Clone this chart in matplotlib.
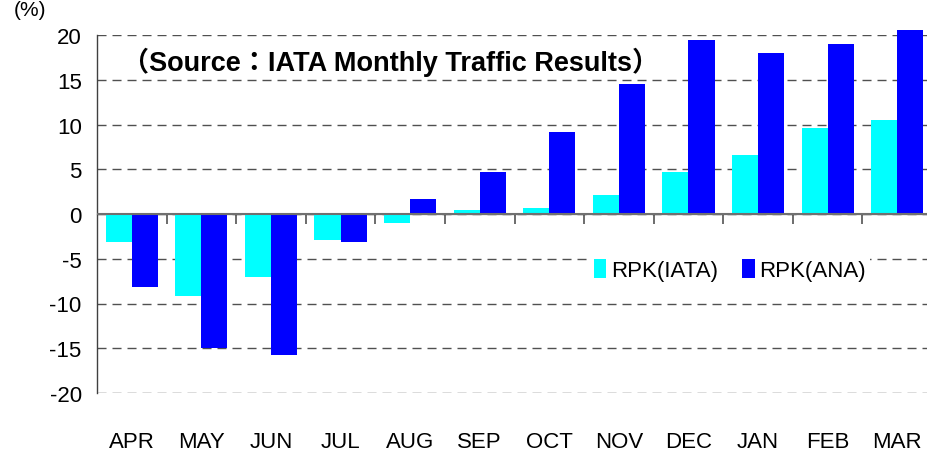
import numpy as np
import matplotlib
matplotlib.use('Agg')
import matplotlib.pyplot as plt
from matplotlib import font_manager as fm

months = ['APR', 'MAY', 'JUN', 'JUL', 'AUG', 'SEP', 'OCT', 'NOV', 'DEC', 'JAN', 'FEB', 'MAR']
rpk_iata = [-3.1, -9.2, -7.0, -2.9, -1.0, 0.45, 0.7, 2.1, 4.7, 6.6, 9.6, 10.5]
rpk_ana = [-8.2, -15.0, -15.7, -3.1, 1.7, 4.7, 9.2, 14.5, 19.4, 18.0, 19.0, 20.6]
yticks = [-20, -15, -10, -5, 0, 5, 10, 15, 20]

narrow = dict(family='Liberation Sans')

fig = plt.figure(figsize=(9.28, 4.60), dpi=100)
ax = fig.add_axes([97 / 928, 1 - 394 / 460, 835 / 928, 358 / 460])

x = np.arange(len(months))
w = 0.375
ax.bar(x - w / 2, rpk_iata, w, color='#00FFFF', label='RPK(IATA)', zorder=2)
ax.bar(x + w / 2, rpk_ana, w, color='#0000FF', label='RPK(ANA)', zorder=2, clip_on=False)

ax.set_xlim(-0.5, len(months) - 0.5)
ax.set_ylim(-20, 20)
ax.set_yticks(yticks)
ax.set_yticklabels([str(v) for v in yticks], fontsize=16, **narrow)
ax.set_xticks(x)
ax.set_xticklabels(months, fontsize=16, **narrow)
ax.tick_params(axis='y', length=0, pad=11)
ax.tick_params(axis='x', length=0, pad=27)

ax.yaxis.grid(True, color='#505050', linewidth=1.0, linestyle=(0, (6.5, 4.3)), zorder=1)
for s in ['top', 'right', 'bottom']:
    ax.spines[s].set_visible(False)
ax.spines['left'].set_color('#404040')
ax.spines['left'].set_linewidth(1.0)

# zero line with category separators
ax.axhline(0, color='#707070', linewidth=1.5, zorder=3)
sec = ax.secondary_xaxis(0.5)
sec.set_xticks(np.arange(0.5, len(months) - 1, 1))
sec.set_xticklabels([])
sec.tick_params(direction='in', length=7.5, width=1.3, color='#606060')
sec.spines['bottom'].set_visible(False)

ax.text(0.03, 0.927, '（Source：IATA Monthly Traffic Results）', transform=ax.transAxes,
        fontsize=19.5, fontweight='bold', family=['Liberation Sans', 'Noto Sans CJK JP'],
        va='center', ha='left')

fig.text(30 / 928, 1 - 10 / 460, '(%)', fontsize=15, ha='center', va='center', **narrow)

leg = ax.legend(loc='center', bbox_to_anchor=(0.758, 0.344), ncol=2, frameon=True,
                fancybox=False, edgecolor='none', facecolor='white', framealpha=1,
                handlelength=0.55, handleheight=0.95, handletextpad=0.2,
                columnspacing=1.1, borderpad=0.2,
                prop=fm.FontProperties(size=16, **narrow))

fig.savefig('out.png', dpi=100)
